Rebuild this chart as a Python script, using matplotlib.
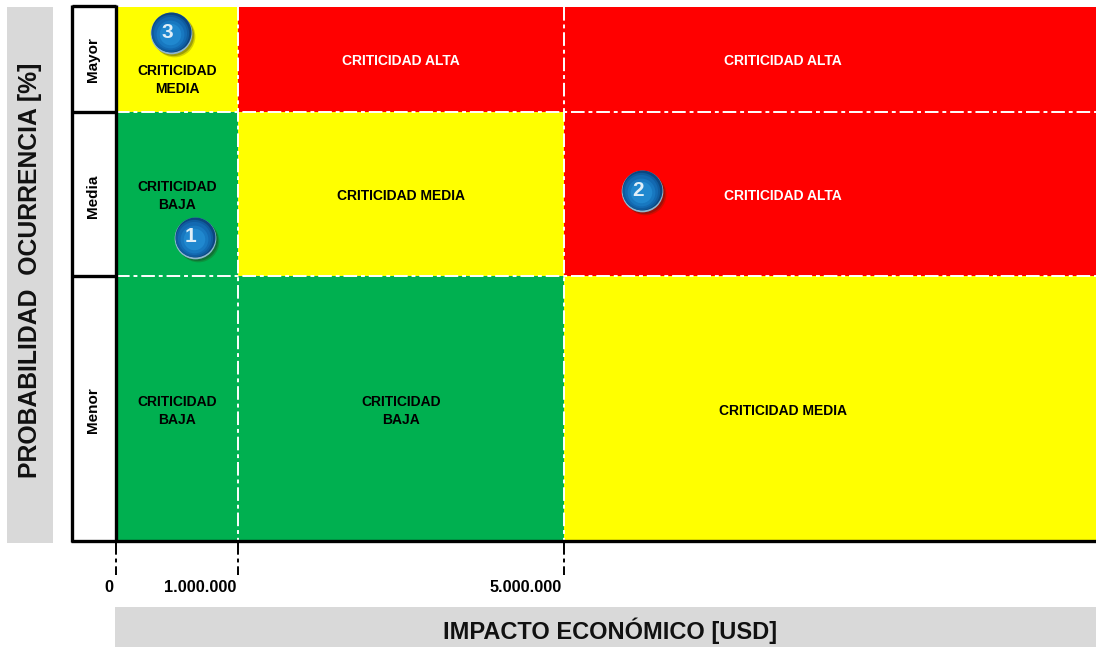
import numpy as np
import matplotlib.pyplot as plt

plt.rcParams['font.family'] = ['Liberation Sans', 'DejaVu Sans']

# grid layout (pixels)
col_edges = [116, 238, 564, 1096]
row_edges = [7, 112, 276, 541]
row_names = ['Mayor', 'Media', 'Menor']
row_name_y = [60, 196, 410]
col_ticks = ['0', '1.000.000', '5.000.000']

GREEN = '#00b050'
YELLOW = '#ffff00'
RED = '#ff0000'

cell_colors = [
    [YELLOW, RED, RED],
    [GREEN, YELLOW, RED],
    [GREEN, GREEN, YELLOW],
]
cell_texts = [
    ['CRITICIDAD\nMEDIA', 'CRITICIDAD ALTA', 'CRITICIDAD ALTA'],
    ['CRITICIDAD\nBAJA', 'CRITICIDAD MEDIA', 'CRITICIDAD ALTA'],
    ['CRITICIDAD\nBAJA', 'CRITICIDAD\nBAJA', 'CRITICIDAD MEDIA'],
]
text_x = [177, 401, 783]
text_y = [[79, 60, 60], [195, 195, 195], [410, 410, 410]]

# numbered risks
risk_ids = ['1', '2', '3']
risk_x = [195, 642, 171]
risk_y = [238, 191, 33]

fig = plt.figure(figsize=(10.96, 6.47), dpi=100)
ax = fig.add_axes([0, 0, 1, 1])
ax.set_xlim(0, 1096)
ax.set_ylim(647, 0)
ax.axis('off')

# grey title boxes
ax.fill_between([7, 53], 7, 543, color='#d9d9d9', lw=0)
ax.fill_between([115, 1096], 607, 647, color='#d9d9d9', lw=0)
ax.text(30, 270, 'PROBABILIDAD  OCURRENCIA [%]', rotation=90, ha='center', va='center',
        fontsize=17.8, fontweight='bold', color='#111111')
ax.text(610, 631, 'IMPACTO ECONÓMICO [USD]', ha='center', va='center',
        fontsize=17, fontweight='bold', color='#111111')

# coloured cells
for r in range(3):
    for c in range(3):
        x0, x1 = col_edges[c], col_edges[c + 1]
        y0, y1 = row_edges[r], row_edges[r + 1]
        ax.fill_between([x0, x1], y0, y1, color=cell_colors[r][c], lw=0, zorder=1)
        txt_color = 'white' if cell_colors[r][c] == RED else 'black'
        ax.text(text_x[c], text_y[r][c] + 1, cell_texts[r][c], ha='center', va='center',
                fontsize=10, fontweight='bold', color=txt_color,
                linespacing=1.45, zorder=3)

# white dash-dot grid lines
dash = (0, (7, 2, 2, 2))
for y in row_edges[1:3]:
    ax.plot([116, 1096], [y, y], color='white', lw=1.4, ls=dash, zorder=2)
for x in col_edges[1:3]:
    ax.plot([x, x], [7, 541], color='white', lw=1.4, ls=dash, zorder=2)

# black dashed drop lines to the tick labels
for x in col_edges[:3]:
    ax.plot([x, x], [543, 575], color='black', lw=1.4, ls=(0, (6, 2, 2, 2)), zorder=2)

# row label column
for y in row_edges[:3]:
    ax.plot([72, 116], [y - 1 if y == 7 else y, y - 1 if y == 7 else y], color='black', lw=2.4,
            zorder=4, solid_capstyle='butt')
ax.plot([72, 72], [5, 542], color='black', lw=2.4, zorder=4, solid_capstyle='butt')
ax.plot([116, 116], [5, 542], color='black', lw=2.4, zorder=4, solid_capstyle='butt')
ax.plot([71, 1096], [541, 541], color='black', lw=2.4, zorder=4, solid_capstyle='butt')
for name, y in zip(row_names, row_name_y):
    ax.text(93, y, name, rotation=90, ha='center', va='center',
            fontsize=11, fontweight='bold', color='black', zorder=5)

# tick labels
ax.text(109, 587, col_ticks[0], ha='center', va='center', fontsize=11.7, fontweight='bold')
ax.text(236, 587, col_ticks[1], ha='right', va='center', fontsize=11.7, fontweight='bold')
ax.text(562, 587, col_ticks[2], ha='right', va='center', fontsize=11.7, fontweight='bold')

# glossy blue balls
for rid, x, y in zip(risk_ids, risk_x, risk_y):
    ax.scatter([x + 3], [y + 3], s=900, color='#333300', alpha=0.22, lw=0, zorder=6)
    ax.scatter([x + 1.5], [y + 1.5], s=880, color='#222222', alpha=0.3, lw=0, zorder=6)
    ax.scatter([x], [y], s=900, color='#8fb8cf', lw=0, zorder=7)
    ax.scatter([x - 0.3], [y - 1.2], s=830, color='#0c4680', lw=0, zorder=8)
    for size, col, off in zip([720, 570, 400, 240],
                              ['#0f5c9f', '#1369b1', '#1878c0', '#2088cf'],
                              [0.5, 1, 1.5, 2]):
        ax.scatter([x - 1], [y - 1 + off], s=size, color=col, lw=0, zorder=9)
    ax.text(x - 4, y - 1, rid, ha='center', va='center', fontsize=15, fontweight='bold',
            color='#e0eff8', zorder=10)

fig.savefig('out.png', dpi=100)
